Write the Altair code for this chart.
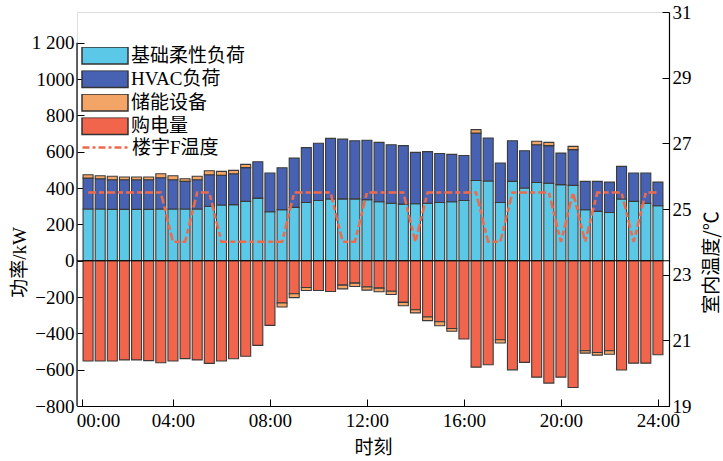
import altair as alt
import pandas as pd

# half-hour slots (hour at the end of each interval)
slot_hours = [0.5, 1.0, 1.5, 2.0, 2.5, 3.0, 3.5, 4.0, 4.5, 5.0, 5.5, 6.0,
              6.5, 7.0, 7.5, 8.0, 8.5, 9.0, 9.5, 10.0, 10.5, 11.0, 11.5, 12.0,
              12.5, 13.0, 13.5, 14.0, 14.5, 15.0, 15.5, 16.0, 16.5, 17.0, 17.5, 18.0,
              18.5, 19.0, 19.5, 20.0, 20.5, 21.0, 21.5, 22.0, 22.5, 23.0, 23.5, 24.0]

# kW
base_load = [285, 285, 283, 283, 283, 283, 285, 285, 285, 285, 300, 307,
             309, 327, 345, 270, 281, 294, 321, 332, 340, 341, 341, 336,
             325, 317, 312, 314, 317, 321, 325, 332, 442, 439, 321, 437,
             401, 431, 427, 419, 415, 281, 272, 266, 340, 327, 317, 303]
hvac_load = [170, 167, 163, 163, 163, 163, 172, 161, 152, 161, 174, 163,
             170, 186, 200, 213, 231, 271, 302, 315, 334, 329, 320, 328,
             327, 322, 322, 283, 284, 270, 261, 248, 261, 237, 217, 224,
             205, 208, 207, 174, 197, 156, 165, 167, 180, 156, 166, 130]
storage_discharge = [19, 16, 19, 15, 15, 15, 22, 22, 15, 19, 22, 22,
                     19, 18, 0, 0, 0, 0, 0, 0, 0, 0, 0, 0,
                     0, 0, 0, 0, 0, 0, 0, 0, 19, 0, 0, 0,
                     0, 19, 18, 0, 18, 0, 0, 0, 0, 0, 0, 0]
grid_purchase = [552, 552, 552, 546, 546, 550, 562, 552, 539, 546, 565, 552,
                 540, 526, 466, 356, 233, 182, 147, 164, 169, 134, 123, 145,
                 151, 168, 229, 270, 310, 336, 373, 431, 586, 573, 435, 601,
                 560, 641, 674, 641, 698, 496, 505, 496, 602, 564, 564, 518]
storage_charge = [0, 0, 0, 0, 0, 0, 0, 0, 0, 0, 0, 0,
                  0, 0, 0, 0, 22, 21, 17, 0, 0, 21, 19, 17,
                  20, 18, 19, 17, 20, 22, 15, 0, 0, 0, 18, 0,
                  0, 0, 0, 0, 0, 13, 15, 19, 0, 0, 0, 0]

# indoor temperature of building F, degC
indoor_temp = [25.5, 25.5, 25.5, 25.5, 25.5, 25.5, 25.5, 24.0, 24.0, 25.5, 25.5, 24.0,
               24.0, 24.0, 24.0, 24.0, 24.0, 25.5, 25.5, 25.5, 25.5, 24.0, 24.0, 25.5,
               25.5, 25.5, 25.5, 24.0, 25.5, 25.5, 25.5, 25.5, 25.5, 24.0, 24.0, 25.5,
               25.5, 25.5, 25.5, 24.0, 25.5, 24.0, 25.5, 25.5, 25.5, 24.0, 25.5, 25.5]

series_names = ["基础柔性负荷", "HVAC负荷", "储能设备", "购电量"]
series_colors = ["#5CC8E8", "#4762B2", "#F2A566", "#F0654B"]
temp_name = "楼宇F温度"
temp_color = "#EE6A4C"

x_tick_values = [0.25, 4, 8, 12, 16, 20, 24]
x_tick_labels = ["00:00", "04:00", "08:00", "12:00", "16:00", "20:00", "24:00"]
left_tick_values = [-800, -600, -400, -200, 0, 200, 400, 600, 800, 1000, 1200]
left_tick_labels = ["−800", "−600", "−400", "−200", "0", "200", "400", "600", "800", "1000", "1 200"]
right_tick_values = [19, 21, 23, 25, 27, 29, 31]

SERIF = "Liberation Serif, Noto Sans CJK SC"
CJK = "Noto Sans CJK SC"

# long table for the stacked bars (negative side: purchase first, then charging)
rows = []
parts = [
    ("基础柔性负荷", base_load, 1, 0),
    ("HVAC负荷", hvac_load, 1, 1),
    ("储能设备", storage_discharge, 1, 2),
    ("购电量", grid_purchase, -1, 3),
    ("储能设备", storage_charge, -1, 4),
]
for name, vals, sign, order in parts:
    for t, v in zip(slot_hours, vals):
        if v:
            rows.append({"t": t, "series": name, "value": sign * v, "order": order})
bar_df = pd.DataFrame(rows)

temp_df = pd.DataFrame({"t": slot_hours, "temp": indoor_temp, "label": temp_name})


def label_expr(values, labels):
    vals = ",".join(str(v) for v in values)
    labs = ",".join("'" + s + "'" for s in labels)
    return f"[{labs}][indexof([{vals}], datum.value)]"


inward = {"expr": "-7"}

x_axis = alt.Axis(
    values=x_tick_values, labelExpr=label_expr(x_tick_values, x_tick_labels),
    title="时刻", grid=False, tickSize=inward, tickColor="black", tickWidth=1,
    domainColor="black", domainWidth=1.2, labelPadding=12, labelOverlap=False,
    labelFlush=False,
    labelOffset={"condition": {"test": "datum.value < 1", "value": 16}, "value": 0},
    labelFont=SERIF, labelFontSize=19, labelColor="black",
    titleFont=CJK, titleFontSize=19, titleFontWeight="normal", titleColor="black",
    titleX=296, titleY=41, titleBaseline="middle", titleAlign="center",
)

left_axis = alt.Axis(
    values=left_tick_values, labelExpr=label_expr(left_tick_values, left_tick_labels),
    title="功率/kW", grid=False, domain=False, tickSize=inward, tickColor="black",
    labelPadding=10, labelOverlap=False, labelFlush=False, tickCount=11,
    labelFont=SERIF, labelFontSize=19, labelColor="black",
    titleFont=SERIF, titleFontSize=19, titleFontWeight="normal", titleColor="black",
    titleAngle=270, titleX=-58, titleY=250, titleAlign="center", titleBaseline="middle",
)

right_axis = alt.Axis(
    orient="right", values=right_tick_values, title="室内温度/℃", grid=False,
    tickSize=inward, tickColor="black", domainColor="black", domainWidth=1.2,
    labelPadding=10, labelOverlap=False,
    labelFont=SERIF, labelFontSize=19, labelColor="black",
    titleFont=CJK, titleFontSize=19, titleFontWeight="normal", titleColor="black",
    titleAngle=270, titleX=42, titleY=250, titleAlign="center", titleBaseline="middle",
)

x_scale = alt.Scale(domain=[0.25, 24.25], nice=False, zero=False)
left_scale = alt.Scale(domain=[-800, 1370], nice=False, zero=False)

bars = alt.Chart(bar_df).mark_bar(size=10, stroke="#3a3a3a", strokeWidth=1.1).encode(
    x=alt.X("t:Q", scale=x_scale, axis=x_axis),
    y=alt.Y("value:Q", stack="zero", scale=left_scale, axis=left_axis),
    fill=alt.Fill(
        "series:N",
        scale=alt.Scale(domain=series_names, range=series_colors),
        legend=alt.Legend(
            title=None, orient="none", legendX=4, legendY=35, padding=0,
            symbolType="M-1,-0.37L1,-0.37L1,0.37L-1,0.37Z", symbolSize=2116,
            symbolStrokeColor="#333333", symbolStrokeWidth=1.5, symbolOpacity=1,
            clipHeight=17, rowPadding=3.5, labelOffset=2, labelLimit=400,
            labelFont=SERIF, labelFontSize=19, labelColor="black",
        ),
    ),
    order=alt.Order("order:Q"),
)

zero_line = alt.Chart(pd.DataFrame({"value": [0]})).mark_rule(
    color="black", strokeWidth=1.2
).encode(y=alt.Y("value:Q", scale=left_scale, axis=left_axis))

left_spine = alt.Chart(pd.DataFrame({"value": [-800], "top": [1200]})).mark_rule(
    color="black", strokeWidth=1.2
).encode(x=alt.value(0), y=alt.Y("value:Q", scale=left_scale, axis=left_axis), y2="top:Q")

power = alt.layer(bars, zero_line, left_spine)

temp_line = alt.Chart(temp_df).mark_line(
    strokeWidth=2.5, strokeDash=[8, 3, 5, 3]
).encode(
    x=alt.X("t:Q", scale=x_scale, axis=x_axis),
    y=alt.Y("temp:Q", scale=alt.Scale(domain=[19, 31], nice=False, zero=False), axis=right_axis),
    stroke=alt.Stroke(
        "label:N",
        scale=alt.Scale(domain=[temp_name], range=[temp_color]),
        legend=alt.Legend(
            title=None, orient="none", legendX=4, legendY=127, padding=0,
            symbolType="stroke", symbolSize=2116, symbolStrokeWidth=2.5,
            symbolDash=[7, 3, 3, 3], clipHeight=17, labelOffset=2, labelLimit=400,
            labelFont=SERIF, labelFontSize=19, labelColor="black",
        ),
    ),
)

chart = alt.layer(power, temp_line).resolve_scale(y="independent").properties(
    width=592, height=394,
    autosize=alt.AutoSizeParams(type="none"),
    padding={"left": 77, "top": 12, "right": 54, "bottom": 55},
).configure_view(strokeWidth=0).configure(background="white")

chart.save("out.html", embed_options={"renderer": "svg", "actions": False})
